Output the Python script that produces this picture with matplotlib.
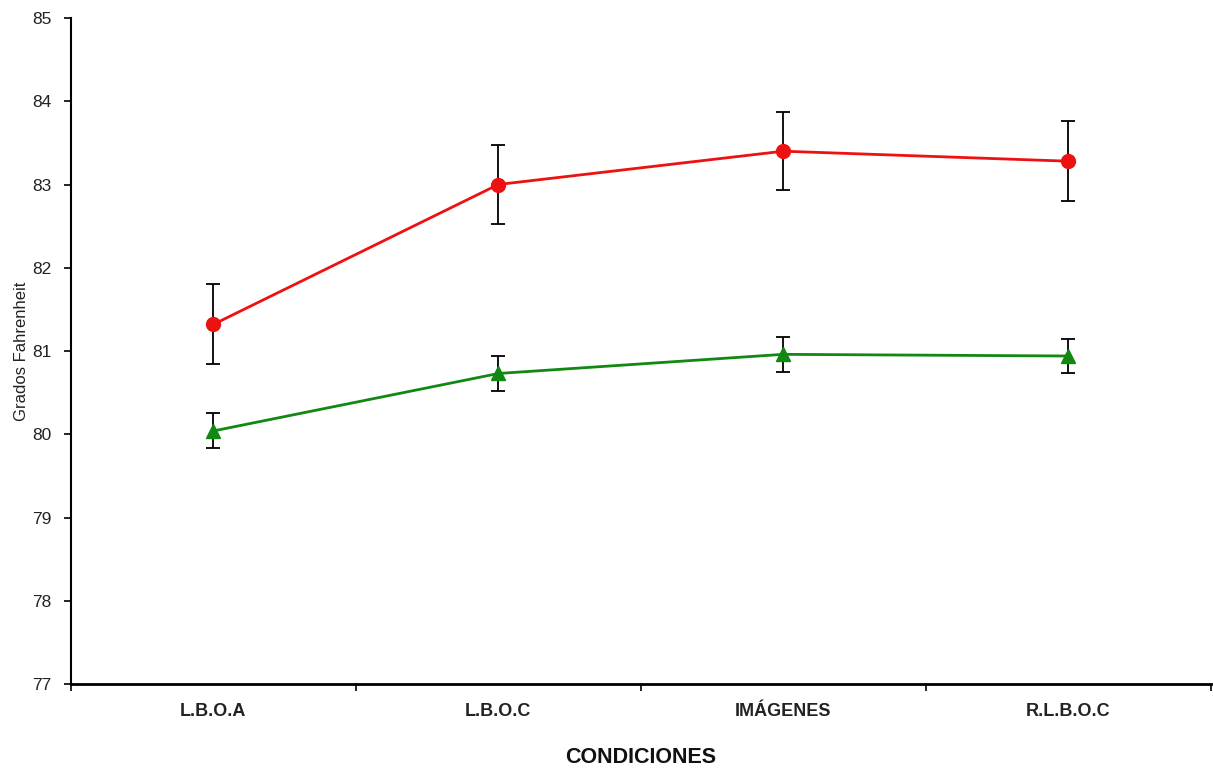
import matplotlib
matplotlib.use("Agg")
import matplotlib.pyplot as plt
import numpy as np

plt.rcParams['font.family'] = ['Liberation Sans', 'DejaVu Sans']

categories = ["L.B.O.A", "L.B.O.C", "IMÁGENES", "R.L.B.O.C"]
red_values = [81.32, 83.0, 83.40, 83.28]
red_errors = [0.48, 0.48, 0.47, 0.48]
green_values = [80.04, 80.73, 80.96, 80.94]
green_errors = [0.21, 0.21, 0.21, 0.21]
y_ticks = [77, 78, 79, 80, 81, 82, 83, 84, 85]

fig = plt.figure(figsize=(12.13, 7.69), dpi=100)
ax = fig.add_axes([0.0585, 0.1105, 0.9395, 0.8661])

x = np.arange(len(categories))
ax.errorbar(x, red_values, yerr=red_errors, color='#ee1111', marker='o', markersize=10,
            linewidth=2, ecolor='black', elinewidth=1.3, capsize=5, capthick=1.3, zorder=3)
ax.errorbar(x, green_values, yerr=green_errors, color='#118811', marker='^', markersize=10,
            linewidth=2, ecolor='black', elinewidth=1.3, capsize=5, capthick=1.3, zorder=3)

ax.set_xlim(-0.5, 3.5)
ax.set_ylim(77, 85)
ax.set_yticks(y_ticks)
ax.set_yticklabels([str(t) for t in y_ticks], fontsize=12.5, color='#222222')
ax.set_xticks(x)
ax.set_xticklabels(categories, fontsize=13, fontweight='bold', color='#222222')
ax.set_xticks(np.arange(-0.5, 3.6, 1.0), minor=True)
ax.tick_params(axis='x', which='major', length=0, pad=14)
ax.tick_params(axis='x', which='minor', length=5, width=1.2, direction='out')
ax.tick_params(axis='y', length=5, width=1.2, direction='out', pad=9)

for s in ['top', 'right']:
    ax.spines[s].set_visible(False)
ax.spines['left'].set_linewidth(1.5)
ax.spines['bottom'].set_linewidth(2)

ax.set_ylabel("Grados Fahrenheit", fontsize=12, color='#222222')
ax.set_xlabel("CONDICIONES", fontsize=15.5, fontweight='bold', color='#111111')
ax.yaxis.set_label_coords(-0.037, 0.5)
ax.xaxis.set_label_coords(0.5, -0.095)

fig.savefig("out.png", dpi=100)
